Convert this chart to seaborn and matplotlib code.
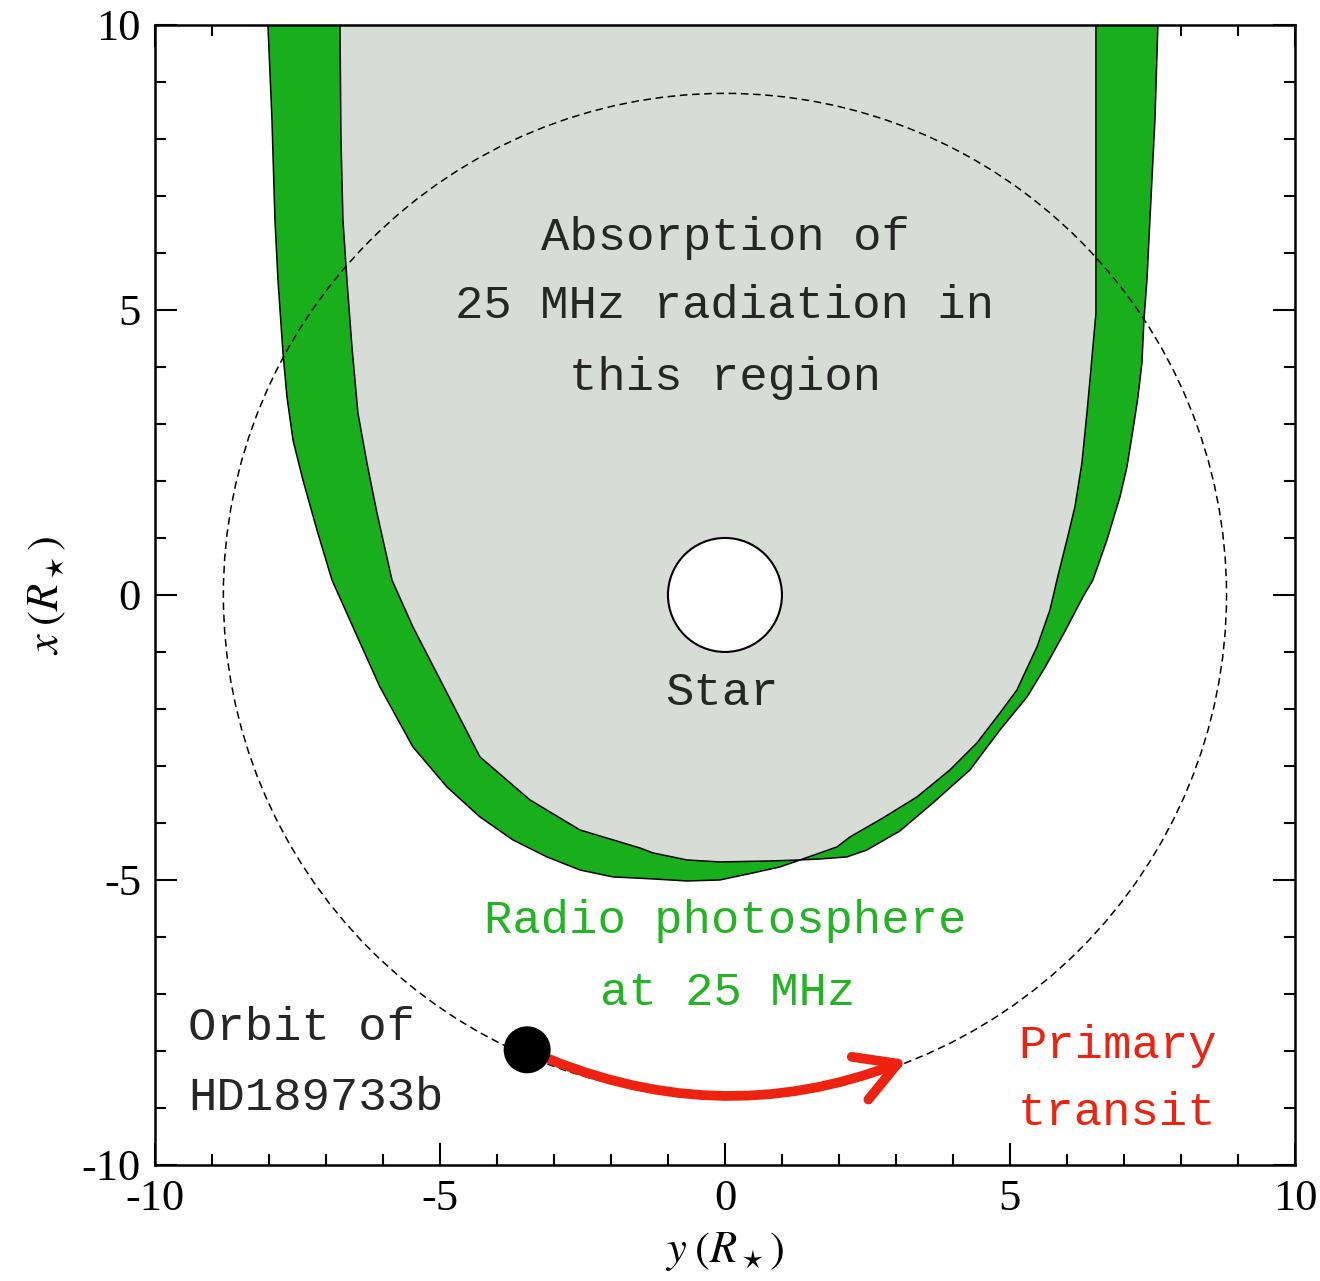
import matplotlib
matplotlib.use("Agg")
import matplotlib.pyplot as plt
import seaborn as sns
from matplotlib.patches import Circle, FancyArrowPatch

# ---------------- data (in stellar radii) ----------------
# outer edge of the radio photosphere (green band), from top-left round to top-right
outer_y = [-8.018, -8.018, -7.947, -7.895, -7.842, -7.754, -7.684, -7.579, -7.404, -7.158,
           -6.895, -6.456, -6.053, -5.474, -4.877, -4.298, -3.719, -3.123, -2.544, -1.965,
           -1.263, -0.667, -0.088, 0.491, 0.965, 1.316, 1.667, 2.140, 2.491, 3.070,
           3.649, 4.298, 4.825, 5.300, 5.620, 5.950, 6.281, 6.456, 6.579, 6.702,
           6.930, 7.053, 7.158, 7.246, 7.316, 7.351, 7.404, 7.456, 7.544, 7.596, 7.596]
outer_x = [10.5, 10.0, 8.333, 6.579, 5.526, 4.246, 3.474, 2.719, 2.018, 1.140,
           0.263, -0.719, -1.614, -2.667, -3.368, -3.895, -4.298, -4.596, -4.825, -4.947,
           -4.982, -5.018, -5.000, -4.877, -4.772, -4.649, -4.632, -4.596, -4.474, -4.140,
           -3.649, -3.070, -2.368, -1.789, -1.263, -0.667, -0.035, 0.263, 0.614, 0.965,
           1.719, 2.246, 2.895, 3.474, 4.070, 4.825, 5.526, 6.579, 8.333, 10.0, 10.5]
# boundary of the absorbing region (grey)
inner_y = [-6.754, -6.754, -6.737, -6.702, -6.632, -6.544, -6.439, -6.281, -6.105, -5.842,
           -5.474, -4.877, -4.298, -4.175, -3.421, -2.544, -1.491, -1.263, -0.667, -0.088,
           0.789, 1.316, 1.965, 2.193, 2.772, 3.368, 3.947, 4.421, 4.825, 5.123,
           5.228, 5.474, 5.702, 5.825, 5.912, 6.000, 6.140, 6.263, 6.351, 6.404,
           6.456, 6.509, 6.509, 6.509]
inner_x = [10.5, 10.0, 8.035, 6.579, 5.526, 4.351, 3.193, 2.316, 1.439, 0.263,
           -0.561, -1.719, -2.842, -2.947, -3.596, -4.123, -4.439, -4.526, -4.649, -4.684,
           -4.667, -4.649, -4.421, -4.246, -3.912, -3.544, -3.070, -2.596, -2.070, -1.667,
           -1.439, -0.912, -0.263, 0.263, 0.614, 0.965, 1.544, 2.316, 3.193, 3.772,
           4.351, 4.947, 10.0, 10.5]
orbit_radius = 8.8
star_radius = 1.0
planet_radius = 0.4
planet_pos = (-3.47, -7.98)
transit_pos = (3.19, -8.16)

ticks_major = [-10, -5, 0, 5, 10]
tick_labels = ["-10", "-5", "0", "5", "10"]

# ---------------- style ----------------
sns.set_theme(style="ticks")
plt.rcParams["font.family"] = ["Liberation Serif", "DejaVu Serif"]
plt.rcParams["mathtext.fontset"] = "stix"
plt.rcParams["axes.unicode_minus"] = False

GREEN = "#18ae1c"
GREY = "#d8dcd6"
RED = "#ee2211"
GREEN_TXT = "#22b422"
MONO = ["Liberation Mono", "DejaVu Sans Mono"]

fig = plt.figure(figsize=(13.2, 12.81), dpi=100)
ax = fig.add_axes([0.1174, 0.0906, 0.8636, 0.8899])

# filled regions
ax.fill(outer_y, outer_x, color=GREEN, lw=0, zorder=1)
ax.fill(inner_y, inner_x, color=GREY, lw=0, zorder=2)
sns.lineplot(x=outer_y, y=outer_x, sort=False, estimator=None, color="black", lw=1.1,
             ax=ax, zorder=3)
sns.lineplot(x=inner_y, y=inner_x, sort=False, estimator=None, color="black", lw=1.1,
             ax=ax, zorder=3)

# orbit
ax.add_patch(Circle((0, 0), orbit_radius, fill=False, ls=(0, (5, 3)), lw=1.1,
                    color="black", zorder=4))
# star
ax.add_patch(Circle((0, 0), star_radius, facecolor="white", edgecolor="black",
                    lw=1.5, zorder=5))
# arrow along orbit
arr = FancyArrowPatch(planet_pos, transit_pos, connectionstyle="arc3,rad=0.21",
                      arrowstyle="->,head_length=2.9,head_width=1.65", mutation_scale=10,
                      lw=7, color=RED, shrinkA=0, shrinkB=0, zorder=6)
ax.add_patch(arr)
# planet
ax.add_patch(Circle(planet_pos, planet_radius, color="black", zorder=7))

# texts
fs = 34
for txt, yy in [("Absorption of", 6.27), ("25 MHz radiation in", 5.07), ("this region", 3.81)]:
    ax.text(0, yy, txt, ha="center", va="center", fontsize=fs, family=MONO, zorder=8)
ax.text(-0.05, -1.72, "Star", ha="center", va="center", fontsize=fs, family=MONO, zorder=8)
ax.text(0, -5.72, "Radio photosphere", ha="center", va="center", fontsize=fs,
        family=MONO, color=GREEN_TXT, zorder=8)
ax.text(0.05, -6.98, "at 25 MHz", ha="center", va="center", fontsize=fs,
        family=MONO, color=GREEN_TXT, zorder=8)
ax.text(-9.42, -7.59, "Orbit of", ha="left", va="center", fontsize=fs, family=MONO, zorder=8)
ax.text(-9.42, -8.82, "HD189733b", ha="left", va="center", fontsize=fs, family=MONO, zorder=8)
ax.text(5.14, -7.91, "Primary", ha="left", va="center", fontsize=fs, family=MONO,
        color=RED, zorder=8)
ax.text(5.14, -9.09, "transit", ha="left", va="center", fontsize=fs, family=MONO,
        color=RED, zorder=8)

# axes
ax.set_xlim(-10, 10)
ax.set_ylim(-10, 10)
ax.set_aspect("auto")
ax.set_xticks(ticks_major)
ax.set_xticklabels(tick_labels)
ax.set_yticks(ticks_major)
ax.set_yticklabels(tick_labels)
ax.set_xticks(range(-10, 11), minor=True)
ax.set_yticks(range(-10, 11), minor=True)
ax.tick_params(which="both", direction="in", top=True, right=True, width=1.5,
               color="black")
ax.tick_params(which="major", length=16, pad=10, labelsize=32, labelcolor="black")
ax.tick_params(which="minor", length=8)
for s in ax.spines.values():
    s.set_linewidth(1.8)
    s.set_color("black")
    s.set_visible(True)
ax.set_facecolor("white")
ax.set_xlabel(r"$y\;(R_\star)$", fontsize=32, labelpad=8, color="black")
ax.set_ylabel(r"$x\;(R_\star)$", fontsize=32, labelpad=10, color="black")

fig.savefig("out.png", dpi=100, facecolor="white")
